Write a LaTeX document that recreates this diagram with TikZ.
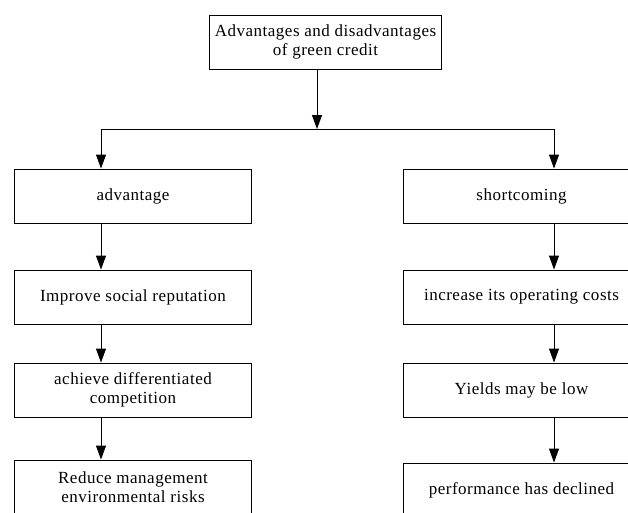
\documentclass[tikz,border=0pt]{standalone}
\usepackage{fontspec}
\setmainfont{Liberation Serif}[LetterSpace=3]
\usetikzlibrary{arrows.meta}
\begin{document}
\begin{tikzpicture}[x=1pt,y=-1pt,
  box/.style={draw=black,line width=0.9pt,minimum width=#1,minimum height=54pt,inner sep=0pt,align=center,
    font=\fontsize{17}{18.5}\selectfont},
  box/.default=237pt,
  arr/.style={line width=0.9pt,-{Triangle[length=14pt,width=10pt]}},
  ln/.style={line width=0.9pt}]
\useasboundingbox (0,0) rectangle (628,512);
\clip (0,0) rectangle (628,512);
\node[box=232pt] (top) at (325.5,42) {Advantages and disadvantages\\of green credit};
\node[box] (adv) at (133,196) {advantage};
\node[box] (imp) at (133,297) {Improve social reputation};
\node[box] (ach) at (133,390) {achieve differentiated\\competition};
\node[box] (red) at (133,487) {Reduce management\\environmental risks};
\node[box] (sho) at (521.5,196) {shortcoming};
\node[box] (inc) at (521.5,297) {increase its operating costs};
\node[box] (yie) at (521.5,390) {Yields may be low};
\node[box] (per) at (521.5,490) {performance has declined};
\coordinate (jc) at (317,129);
\coordinate (jl) at (101,129);
\coordinate (jr) at (554,129);
\draw[arr] (top.south -| jc) -- (jc);
\draw[ln] (jl) -- (jr);
\draw[arr] (jl) -- (adv.north -| jl);
\draw[arr] (jr) -- (sho.north -| jr);
\draw[arr] (adv.south -| jl) -- (imp.north -| jl);
\draw[arr] (imp.south -| jl) -- (ach.north -| jl);
\draw[arr] (ach.south -| jl) -- (red.north -| jl);
\draw[arr] (sho.south -| jr) -- (inc.north -| jr);
\draw[arr] (inc.south -| jr) -- (yie.north -| jr);
\draw[arr] (yie.south -| jr) -- (per.north -| jr);
\end{tikzpicture}
\end{document}
